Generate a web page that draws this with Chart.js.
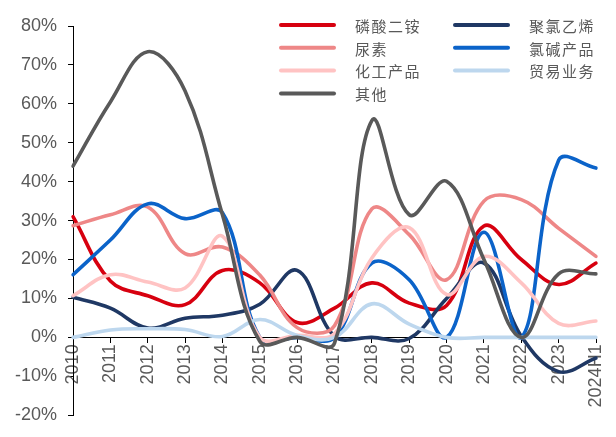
<!DOCTYPE html>
<html>
<head>
<meta charset="utf-8">
<script src="https://cdn.jsdelivr.net/npm/chart.js@4/dist/chart.umd.min.js"></script>
<style>
  html, body { margin: 0; padding: 0; background: #fff; }
  #wrap { width: 616px; height: 437px; }
</style>
</head>
<body>
<div id="wrap"><canvas id="c" width="616" height="437"></canvas></div>
<script>
// Years on the x axis
const categories = ['2010','2011','2012','2013','2014','2015','2016','2017','2018','2019','2020','2021','2022','2023','2024H1'];

// Gross margin by business line (%)
const dap         = [31.0, 14.5, 10.7, 8.4, 17.2, 14.0, 3.8, 7.5, 14.0, 8.8, 8.2, 28.6, 20.0, 13.6, 19.1];   // 磷酸二铵
const pvc         = [10.3, 7.5, 2.4, 4.9, 5.7, 8.5, 17.2, 0.3, 0.0, -0.3, 10.0, 19.1, 0.3, -8.8, -5.3];   // 聚氯乙烯
const urea        = [28.7, 31.5, 33.5, 21.5, 23.2, 16.0, 2.5, 3.0, 33.0, 26.4, 14.8, 35.0, 35.4, 28.0, 20.8]; // 尿素
const chlorAlkali = [16.1, 25.0, 34.3, 30.5, 32.0, 0.0, 0.0, 0.0, 19.1, 14.8, 0.0, 27.0, 0.0, 45.5, 43.5];   // 氯碱产品
const chemicals   = [10.7, 16.1, 14.2, 12.7, 26.0, 0.0, 0.5, 1.0, 20.4, 28.2, 11.0, 20.8, 14.0, 3.6, 4.2];   // 化工产品
const trade       = [0.0, 1.9, 2.2, 2.0, 0.2, 4.6, 0.5, 0.0, 8.6, 3.4, 0.0, 0.0, 0.0, 0.0, 0.0];          // 贸易业务
const other       = [44.0, 60.5, 73.4, 63.3, 31.5, -1.0, 0.0, -1.5, 55.7, 31.5, 40.1, 20.0, 0.0, 16.3, 16.3]; // 其他

// Value axis range
const yMin = -20, yMax = 80, yStep = 10;

const series = [
  { label: '磷酸二铵', data: dap,         color: '#D7000F' },
  { label: '聚氯乙烯', data: pvc,         color: '#1F3864' },
  { label: '尿素',     data: urea,        color: '#EE8787' },
  { label: '氯碱产品', data: chlorAlkali, color: '#0B63C9' },
  { label: '化工产品', data: chemicals,   color: '#FFC3C3' },
  { label: '贸易业务', data: trade,       color: '#BDD7EE' },
  { label: '其他',     data: other,       color: '#595959' }
];

// Legend layout: two columns, first column top to bottom then second
const legendColumns = [
  ['磷酸二铵', '尿素', '化工产品', '其他'],
  ['聚氯乙烯', '氯碱产品', '贸易业务']
];

const axisFont = { family: "'Liberation Sans', Arial, sans-serif", size: 18 };
const textColor = '#595959';

const gridLegend = {
  id: 'gridLegend',
  afterDraw(chart) {
    const ctx = chart.ctx;
    const colX = [281, 455];
    const lineLen = 53;
    const textGap = 21;
    const top = 25;
    const rowH = 22.8;
    ctx.save();
    ctx.font = "15px 'Noto Sans CJK SC', sans-serif";
    ctx.textBaseline = 'middle';
    ctx.textAlign = 'left';
    if ('letterSpacing' in ctx) ctx.letterSpacing = '1.5px';
    legendColumns.forEach((col, ci) => {
      col.forEach((name, ri) => {
        const ds = chart.data.datasets.find(d => d.label === name);
        const y = top + ri * rowH;
        const x = colX[ci];
        ctx.beginPath();
        ctx.lineCap = 'round';
        ctx.lineWidth = 4;
        ctx.strokeStyle = ds.borderColor;
        ctx.moveTo(x, y);
        ctx.lineTo(x + lineLen, y);
        ctx.stroke();
        ctx.fillStyle = textColor;
        ctx.fillText(name, x + lineLen + textGap, y + 1);
      });
    });
    ctx.restore();
  }
};

new Chart(document.getElementById('c'), {
  type: 'line',
  data: {
    labels: categories,
    datasets: series.map((s, i) => ({
      label: s.label,
      data: s.data,
      borderColor: s.color,
      backgroundColor: s.color,
      order: series.length - i
    }))
  },
  options: {
    responsive: false,
    animation: false,
    layout: { padding: { top: 26, right: 5, bottom: 14, left: 4 } },
    elements: {
      point: { radius: 0, hoverRadius: 0 },
      line: { tension: 0.38, borderWidth: 3.6, borderCapStyle: 'round', borderJoinStyle: 'round', fill: false }
    },
    plugins: {
      legend: { display: false },
      tooltip: { enabled: false }
    },
    scales: {
      x: {
        type: 'category',
        position: { y: 0 },
        offset: false,
        grid: { drawOnChartArea: false, drawTicks: true, tickLength: 5, color: '#000', lineWidth: 1 },
        border: { display: true, color: '#000', width: 1 },
        ticks: {
          autoSkip: false,
          minRotation: 90,
          maxRotation: 90,
          padding: 2,
          color: textColor,
          font: { family: axisFont.family, size: axisFont.size, lineHeight: 1.0 }
        }
      },
      y: {
        min: yMin,
        max: yMax,
        grid: { drawOnChartArea: false, drawTicks: true, tickLength: 5, color: '#000', lineWidth: 1 },
        border: { display: true, color: '#000', width: 1 },
        ticks: {
          stepSize: yStep,
          padding: 11,
          color: textColor,
          font: axisFont,
          callback: v => v + '%'
        }
      }
    }
  },
  plugins: [gridLegend]
});
</script>
</body>
</html>
